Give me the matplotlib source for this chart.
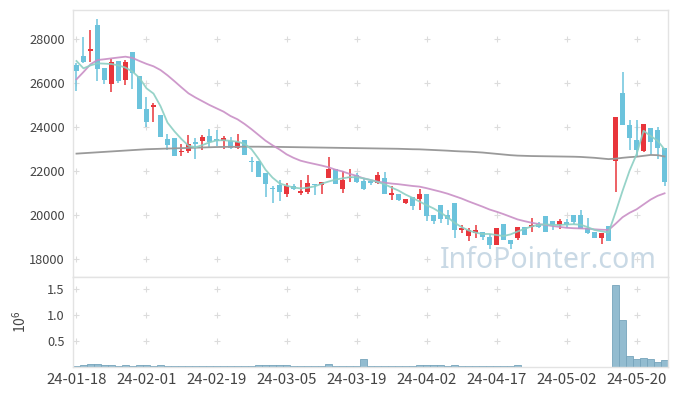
import numpy as np
import matplotlib.pyplot as plt

plt.rcParams['font.family'] = ['Noto Sans CJK KR', 'DejaVu Sans']

# tick labels (every 10 trading days)
date_labels = ['24-01-18', '24-02-01', '24-02-19', '24-03-05', '24-03-19',
               '24-04-02', '24-04-17', '24-05-02', '24-05-20']

# daily candles, 24-01-18 .. 24-05-24
opens = [26800, 27250, 27450, 28650, 26700, 25950, 27000, 26150, 27400, 26300,
         24800, 24900, 24550, 23450, 23500, 22850, 22900, 23300, 23350, 23600,
         23450, 23350, 23350, 23050, 23400, 22450, 22450, 21900, 21250, 21350,
         20950, 21300, 21000, 21050, 21400, 21350, 21700, 22100, 21200, 21700,
         21800, 21550, 21550, 21450, 21700, 20900, 20950, 20550, 20800, 20750,
         20950, 20000, 20450, 20000, 20550, 19300, 19050, 19200, 19250, 19000,
         18650, 19600, 18850, 18950, 19450, 19450, 19600, 19950, 19750, 19550,
         19700, 20000, 20000, 19400, 19250, 18950, 19500, 22450, 25550, 24100,
         23400, 22900, 23950, 23850, 23050]
highs = [26900, 28100, 28400, 28900, 26700, 27100, 27000, 27050, 27400, 26300,
         25350, 25100, 24550, 23700, 23500, 23250, 23650, 23500, 23650, 23900,
         23850, 23600, 23550, 23700, 23400, 22650, 22450, 21900, 21300, 21600,
         21450, 21400, 21600, 21800, 21400, 21500, 22650, 22100, 22000, 22100,
         21900, 21650, 21600, 21950, 21950, 21300, 20950, 20750, 20800, 21200,
         20950, 20000, 20450, 20250, 20550, 19550, 19400, 19550, 19250, 19150,
         19400, 19600, 18850, 19450, 19450, 19850, 19700, 19950, 19750, 19800,
         19800, 20000, 20250, 19850, 19250, 19200, 19500, 24450, 26500, 24300,
         24300, 24150, 23950, 24000, 23050]
lows = [25650, 26900, 26950, 26100, 25950, 25600, 26000, 25900, 25750, 24800,
        24000, 24250, 23550, 22950, 22700, 22700, 22800, 22550, 22950, 23100,
        23150, 23000, 23000, 23000, 22750, 21950, 21750, 20800, 20550, 20650,
        20800, 21150, 20900, 20950, 20900, 20950, 21700, 21400, 21000, 21500,
        21450, 21150, 21350, 21400, 20950, 20700, 20650, 20500, 20250, 20250,
        19750, 19600, 19650, 19550, 18950, 19200, 18800, 18950, 18850, 18450,
        18650, 18850, 18450, 18850, 19100, 19250, 19400, 19250, 19300, 19350,
        19400, 19600, 19350, 19150, 18950, 18700, 18800, 21050, 24100, 22950,
        22700, 22850, 22750, 22550, 21300]
closes = [26550, 26950, 27550, 26650, 26150, 26950, 26100, 26950, 26450, 24800,
          24250, 25000, 23550, 23200, 22700, 22900, 23250, 23250, 23550, 23300,
          23350, 23500, 23050, 23300, 22750, 22400, 21750, 21400, 21200, 21050,
          21300, 21200, 21100, 21450, 21350, 21500, 22100, 21400, 21600, 21750,
          21500, 21200, 21450, 21800, 20950, 21000, 20700, 20750, 20400, 20950,
          19950, 19750, 19800, 19800, 19300, 19400, 19300, 19300, 19000, 18650,
          19400, 18850, 18700, 19450, 19100, 19550, 19450, 19250, 19550, 19750,
          19550, 19700, 19350, 19200, 18950, 19200, 18800, 24450, 24100, 23500,
          22950, 24150, 23300, 23050, 21500]

# moving averages
ma5 = [27000, 26667, 26800, 26894, 26880, 26864, 26800, 26700, 26520, 26230,
       25758, 25520, 24950, 24200, 23800, 23450, 23150, 23076, 23180, 23303,
       23390, 23400, 23370, 23330, 23240, 22990, 22560, 22060, 21700, 21440,
       21334, 21250, 21210, 21240, 21300, 21420, 21520, 21610, 21667, 21720,
       21720, 21667, 21592, 21500, 21400, 21250, 21110, 20930, 20780, 20610,
       20450, 20300, 20110, 19900, 19650, 19450, 19300, 19200, 19137, 19137,
       19090, 19046, 19120, 19250, 19370, 19480, 19550, 19576, 19550, 19546,
       19570, 19580, 19560, 19450, 19320, 19260, 19200, 20119, 21098, 22013,
       22758, 23828, 23591, 23379, 22979]
ma20 = [26167, 26500, 26850, 27045, 27080, 27121, 27160, 27197, 27140, 27000,
        26870, 26760, 26590, 26350, 26080, 25800, 25530, 25340, 25170, 25000,
        24850, 24700, 24500, 24350, 24140, 23900, 23640, 23380, 23170, 22980,
        22760, 22600, 22470, 22390, 22320, 22250, 22170, 22060, 21980, 21870,
        21780, 21667, 21592, 21520, 21470, 21430, 21400, 21360, 21320, 21290,
        21220, 21140, 21060, 20970, 20860, 20750, 20620, 20500, 20380, 20250,
        20150, 20040, 19920, 19800, 19720, 19650, 19590, 19546, 19500, 19460,
        19420, 19400, 19390, 19380, 19350, 19330, 19319, 19600, 19900, 20100,
        20258, 20480, 20700, 20870, 20986]
ma120 = [22790, 22810, 22830, 22850, 22870, 22890, 22910, 22930, 22950, 22970,
         22990, 23000, 23010, 23020, 23030, 23040, 23050, 23060, 23070, 23080,
         23090, 23095, 23100, 23100, 23105, 23105, 23105, 23100, 23100, 23095,
         23090, 23085, 23080, 23075, 23070, 23065, 23060, 23055, 23050, 23045,
         23040, 23035, 23030, 23025, 23020, 23015, 23010, 23000, 22990, 22985,
         22970, 22955, 22940, 22925, 22905, 22890, 22880, 22860, 22840, 22810,
         22780, 22750, 22720, 22700, 22690, 22680, 22675, 22670, 22665, 22660,
         22655, 22650, 22640, 22620, 22600, 22570, 22540, 22560, 22600, 22630,
         22650, 22690, 22730, 22720, 22660]

volume = [25000, 45000, 60000, 60000, 30000, 30000, 12000, 30000, 12000, 30000,
          30000, 12000, 30000, 12000, 12000, 12000, 12000, 12000, 12000, 12000,
          12000, 12000, 12000, 12000, 12000, 12000, 45000, 45000, 45000, 45000,
          45000, 12000, 12000, 12000, 12000, 12000, 50000, 12000, 12000, 12000,
          12000, 150000, 12000, 12000, 12000, 12000, 12000, 12000, 12000, 30000,
          45000, 45000, 35000, 12000, 45000, 12000, 12000, 12000, 12000, 12000,
          12000, 12000, 12000, 30000, 0, 8000, 0, 0, 8000, 8000,
          0, 8000, 8000, 8000, 8000, 8000, 8000, 1580000, 900000, 210000,
          150000, 165000, 155000, 95000, 130000]

price_ticks = [18000, 20000, 22000, 24000, 26000, 28000]
vol_ticks = [0.5, 1.0, 1.5]

up_color = '#e8353b'
down_color = '#6cc3dc'
text_color = '#444444'
spine_color = '#e3e3e3'

x = np.arange(len(closes))
o = np.array(opens)
c = np.array(closes)
colors = [up_color if cc >= oo else down_color for oo, cc in zip(o, c)]

fig = plt.figure(figsize=(6.77, 3.96), dpi=100)
ax1 = fig.add_axes([0.1078, 0.3005, 0.879, 0.6742])
ax2 = fig.add_axes([0.1078, 0.0732, 0.879, 0.2273], sharex=ax1)

xticks = np.arange(0, len(closes), 10)

# grid crosses
gx, gy = np.meshgrid(xticks, price_ticks)
ax1.scatter(gx.ravel(), gy.ravel(), marker='+', s=18, color='#dcdcdc', linewidths=0.8, zorder=0)
gx, gy = np.meshgrid(xticks, vol_ticks)
ax2.scatter(gx.ravel(), gy.ravel(), marker='+', s=18, color='#dcdcdc', linewidths=0.8, zorder=0)

# watermark
ax1.text(0.617, 0.035, 'InfoPointer.com', transform=ax1.transAxes, fontsize=20.5,
         color='#c9d9e5', ha='left', va='baseline', zorder=0, family=['Noto Sans', 'DejaVu Sans'])

# candles
ax1.vlines(x, lows, highs, colors=colors, linewidth=1.1, zorder=2)
body_h = np.maximum(np.abs(c - o), 40)
ax1.bar(x, body_h, bottom=np.minimum(o, c), width=0.72, color=colors, zorder=3)

# moving averages
ax1.plot(x, ma120, color='#9a9a9a', linewidth=1.3, zorder=4)
ax1.plot(x, ma20, color='#c98fc6', linewidth=1.3, alpha=0.9, zorder=4)
ax1.plot(x, ma5, color='#8ccfc3', linewidth=1.3, alpha=0.9, zorder=4)

ax1.set_xlim(-0.5, len(closes) - 0.5)
ax1.set_ylim(17182, 29318)
ax1.set_yticks(price_ticks)
ax1.set_yticklabels([str(t) for t in price_ticks])
ax1.tick_params(axis='y', length=0, pad=6, labelsize=9.2, labelcolor=text_color)
ax1.tick_params(axis='x', length=0, labelbottom=False)

# volume
ax2.bar(x, np.array(volume) / 1e6, width=1.0, color='#93bcd0', edgecolor='#76a4bb', linewidth=0.6, zorder=2)
ax2.set_ylim(0, 1.726)
ax2.set_yticks(vol_ticks)
ax2.set_yticklabels(['0.5', '1.0', '1.5'])
ax2.set_xticks(xticks)
ax2.set_xticklabels(date_labels)
ax2.tick_params(axis='y', length=0, pad=6, labelsize=9.2, labelcolor=text_color)
ax2.tick_params(axis='x', length=0, pad=4, labelsize=10.8, labelcolor=text_color)
ax2.set_ylabel(r'$\mathregular{10^6}$', fontsize=10, color=text_color)
ax2.yaxis.set_label_coords(-0.075, 0.5)

for ax in (ax1, ax2):
    for s in ax.spines.values():
        s.set_color(spine_color)
        s.set_linewidth(1)

fig.savefig('out.png', dpi=100, facecolor='white')
